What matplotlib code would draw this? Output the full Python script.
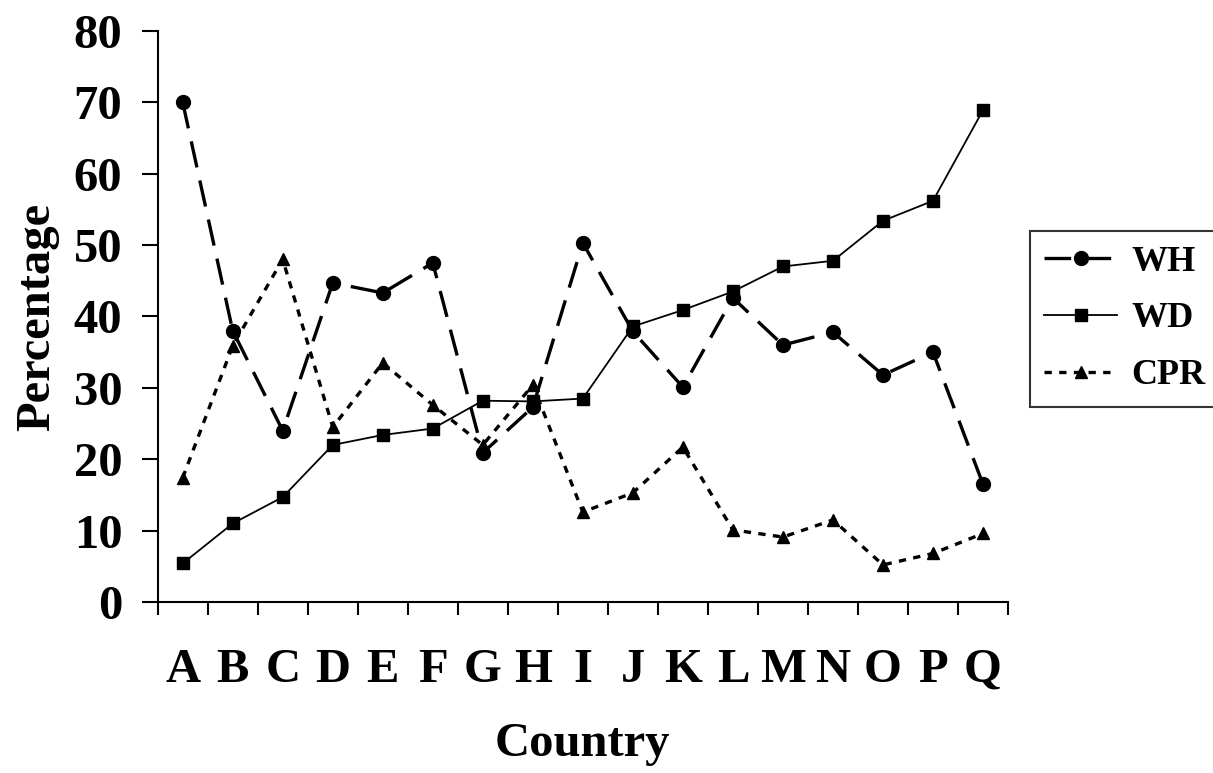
import matplotlib
matplotlib.use("Agg")
import matplotlib.pyplot as plt
import numpy as np

countries = list("ABCDEFGHIJKLMNOPQ")
wh = [70, 38, 24, 44.7, 43.3, 47.5, 20.9, 27.3, 50.3, 37.9, 30.1, 42.6, 36.0, 37.8, 31.8, 35.0, 16.5]
wd = [5.4, 11.0, 14.7, 22.0, 23.4, 24.3, 28.2, 28.1, 28.5, 38.6, 40.9, 43.5, 47.0, 47.8, 53.4, 56.2, 68.9]
cpr = [17.4, 35.9, 48.0, 24.5, 33.5, 27.6, 22.0, 30.4, 12.6, 15.3, 21.7, 10.1, 9.1, 11.5, 5.2, 6.8, 9.6]

plt.rcParams['font.family'] = ['Liberation Serif', 'DejaVu Serif']
plt.rcParams['font.weight'] = 'bold'

fig = plt.figure(figsize=(12.13, 7.73), dpi=100)
ax = fig.add_axes([0.130, 0.2212, 0.701, 0.7388])

x = np.arange(len(countries))
ax.plot(x, wh, color='black', lw=2.4, linestyle=(0, (8, 4)), marker='o',
        markersize=10, label='WH')
ax.plot(x, wd, color='black', lw=1.3, linestyle='-', marker='s',
        markersize=9, label='WD')
ax.plot(x, cpr, color='black', lw=2.4, linestyle=(0, (2.2, 2.2)), marker='^',
        markersize=9, label='CPR')

ax.set_xlim(-0.5, len(countries) - 0.5)
ax.set_ylim(0, 80)
ax.set_yticks(range(0, 81, 10))
ax.set_xticks(np.arange(-0.5, len(countries), 1.0))
ax.set_xticklabels([])
ax.set_xticks(x, minor=True)
ax.set_xticklabels(countries, minor=True)
ax.tick_params(axis='x', which='major', length=9.5, width=1.5, direction='out')
ax.tick_params(axis='x', which='minor', length=0, pad=33, labelsize=35)
ax.tick_params(axis='y', length=11.5, width=1.5, direction='out', labelsize=35, pad=14)

for s in ['top', 'right']:
    ax.spines[s].set_visible(False)
for s in ['left', 'bottom']:
    ax.spines[s].set_linewidth(1.5)

ax.set_xlabel('Country', fontsize=35, fontweight='bold', labelpad=22)
ax.set_ylabel('Percentage', fontsize=35, fontweight='bold', labelpad=10)

leg = fig.legend(loc='upper left', bbox_to_anchor=(1030 / 1213, 1 - 231 / 773),
                 fontsize=26, frameon=True, fancybox=False, edgecolor='black',
                 handlelength=2.0, borderpad=0.4, labelspacing=0.65,
                 handletextpad=0.4, borderaxespad=0)
leg.get_frame().set_linewidth(1.5)
for t in leg.get_texts():
    t.set_fontweight('bold')

fig.savefig('out.png', dpi=100)
